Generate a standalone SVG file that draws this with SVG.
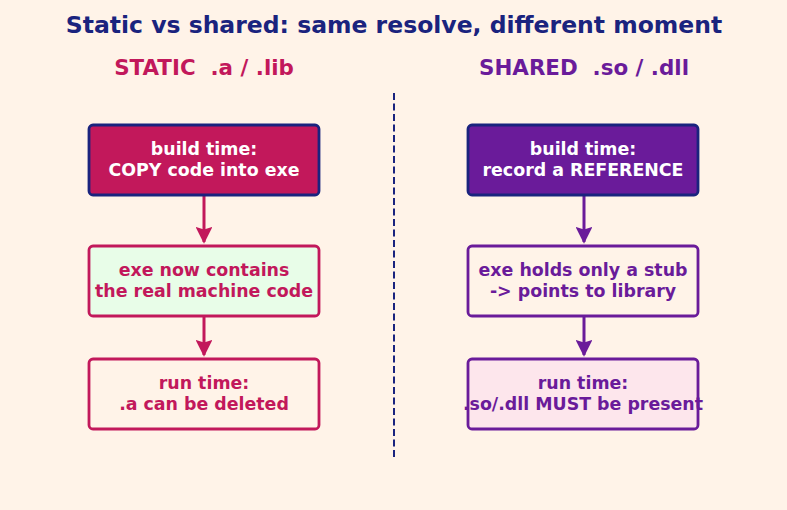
<svg xmlns="http://www.w3.org/2000/svg" width="787" height="510" viewBox="0 0 787 510">
<defs>
<style>
text{font-family:"DejaVu Sans","Liberation Sans",sans-serif;font-weight:bold;text-anchor:middle}
.t{font-size:23.5px;fill:#1A237E}
.h{font-size:21.4px}
.b{font-size:17.4px}
.box{stroke-width:2.8}
.c{fill:none;stroke-width:3}
</style>
<marker id="am" viewBox="0 0 10 10" refX="9" refY="5" markerWidth="5.6" markerHeight="5.6" orient="auto" markerUnits="strokeWidth"><path d="M0,0 L10,5 L0,10 L1.5,5 z" fill="#C2185B"/></marker>
<marker id="ap" viewBox="0 0 10 10" refX="9" refY="5" markerWidth="5.6" markerHeight="5.6" orient="auto" markerUnits="strokeWidth"><path d="M0,0 L10,5 L0,10 L1.5,5 z" fill="#6A1B9A"/></marker>
</defs>
<rect width="787" height="510" fill="#FFF3E8"/>
<text class="t" x="394" y="33">Static vs shared: same resolve, different moment</text>
<text class="h" x="204" y="75" fill="#C2185B" xml:space="preserve">STATIC  .a / .lib</text>
<text class="h" x="584" y="75" fill="#6A1B9A" xml:space="preserve">SHARED  .so / .dll</text>
<line x1="394" y1="93" x2="394" y2="460" stroke="#1A237E" stroke-width="2" stroke-dasharray="7,3.5"/>
<g id="connectors">
<line class="c" x1="204" y1="196" x2="204" y2="242" stroke="#C2185B" marker-end="url(#am)"/>
<line class="c" x1="204" y1="317" x2="204" y2="355" stroke="#C2185B" marker-end="url(#am)"/>
<line class="c" x1="584" y1="196" x2="584" y2="242" stroke="#6A1B9A" marker-end="url(#ap)"/>
<line class="c" x1="584" y1="317" x2="584" y2="355" stroke="#6A1B9A" marker-end="url(#ap)"/>
</g>
<g id="s1">
<rect class="box" x="89" y="125" width="230" height="70" rx="4" fill="#C2185B" stroke="#1A237E"/>
<text class="b" x="204" y="155" fill="#FFFFFF">build time:</text>
<text class="b" x="204" y="176" fill="#FFFFFF">COPY code into exe</text>
</g>
<g id="s2">
<rect class="box" x="89" y="246" width="230" height="70" rx="4" fill="#E8FDE8" stroke="#C2185B"/>
<text class="b" x="204" y="276" fill="#C2185B">exe now contains</text>
<text class="b" x="204" y="297" fill="#C2185B">the real machine code</text>
</g>
<g id="s3">
<rect class="box" x="89" y="359" width="230" height="70" rx="4" fill="#FFF3E8" stroke="#C2185B"/>
<text class="b" x="204" y="389" fill="#C2185B">run time:</text>
<text class="b" x="204" y="410" fill="#C2185B">.a can be deleted</text>
</g>
<g id="d1">
<rect class="box" x="468" y="125" width="230" height="70" rx="4" fill="#6A1B9A" stroke="#1A237E"/>
<text class="b" x="583" y="155" fill="#FFFFFF">build time:</text>
<text class="b" x="583" y="176" fill="#FFFFFF">record a REFERENCE</text>
</g>
<g id="d2">
<rect class="box" x="468" y="246" width="230" height="70" rx="4" fill="#FFF3E8" stroke="#6A1B9A"/>
<text class="b" x="583" y="276" fill="#6A1B9A">exe holds only a stub</text>
<text class="b" x="583" y="297" fill="#6A1B9A">-&gt; points to library</text>
</g>
<g id="d3">
<rect class="box" x="468" y="359" width="230" height="70" rx="4" fill="#FDE6EC" stroke="#6A1B9A"/>
<text class="b" x="583" y="389" fill="#6A1B9A">run time:</text>
<text class="b" x="583" y="410" fill="#6A1B9A">.so/.dll MUST be present</text>
</g>
</svg>
